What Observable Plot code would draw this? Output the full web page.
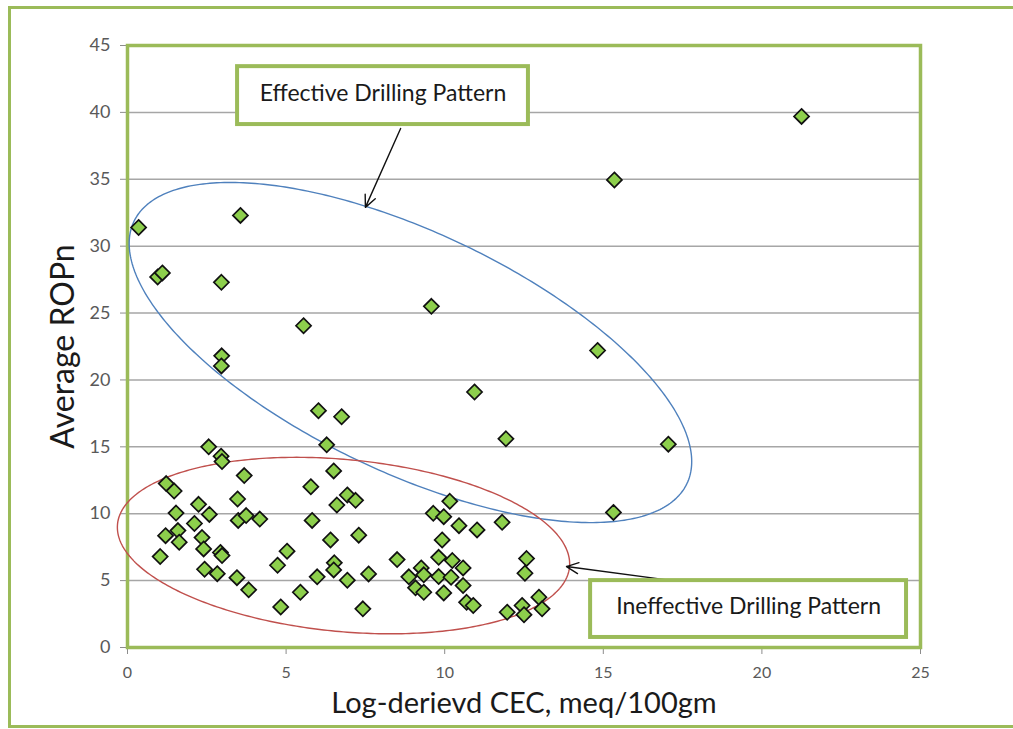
<!DOCTYPE html>
<html>
<head>
<meta charset="utf-8">
<script src="https://cdn.jsdelivr.net/npm/d3@7"></script>
<script src="https://cdn.jsdelivr.net/npm/@observablehq/plot@0.6"></script>
<style>
  body { margin: 0; background: #fff; }
  #wrap { position: relative; width: 1013px; height: 729px; overflow: hidden; background: #fff; }
  #chart { position: absolute; left: 0; top: 0; }
  #outer { position: absolute; left: 8px; top: 6px; width: 1030px; height: 716px; border: 3px solid #9bbb59; pointer-events: none; }
</style>
</head>
<body>
<div id="wrap"><div id="chart"></div><div id="outer"></div></div>
<script>
// ---- data ----
const cec = [21.25, 15.35, 0.35, 3.56, 0.95, 1.1, 2.96, 9.58, 5.55, 14.82,
  2.97, 2.96, 10.94, 6.02, 6.75, 11.93, 17.05, 6.28, 2.56, 2.95,
  2.98, 15.32, 6.5, 3.68, 1.22, 1.47, 2.24, 2.58, 1.53, 3.47,
  3.49, 3.74, 4.17, 2.11, 1.59, 1.2, 1.63, 2.35, 2.4, 2.93,
  2.98, 1.03, 2.43, 2.83, 3.45, 3.82, 5.03, 4.73, 4.83, 5.45,
  5.78, 6.93, 6.6, 7.19, 5.82, 6.4, 7.29, 6.52, 6.5, 5.98,
  6.93, 7.6, 7.42, 8.5, 8.87, 10.16, 9.64, 9.97, 10.45, 11.02,
  11.81, 9.92, 9.81, 10.24, 10.58, 9.26, 9.34, 9.81, 10.2, 9.08,
  9.34, 9.97, 10.58, 10.69, 10.9, 12.58, 12.53, 11.97, 12.44, 12.5,
  12.97, 13.07];
const rop = [39.7, 34.95, 31.4, 32.3, 27.7, 28.0, 27.3, 25.5, 24.05, 22.2,
  21.8, 21.05, 19.1, 17.7, 17.25, 15.6, 15.2, 15.15, 15.0, 14.3,
  13.9, 10.1, 13.2, 12.85, 12.25, 11.7, 10.7, 9.95, 10.05, 11.1,
  9.5, 9.86, 9.6, 9.27, 8.74, 8.36, 7.87, 8.22, 7.37, 7.1,
  6.87, 6.8, 5.85, 5.52, 5.22, 4.31, 7.2, 6.15, 3.03, 4.13,
  12.02, 11.4, 10.65, 11.0, 9.5, 8.04, 8.4, 6.33, 5.8, 5.28,
  5.03, 5.5, 2.89, 6.57, 5.28, 10.93, 10.03, 9.78, 9.11, 8.79,
  9.36, 8.04, 6.74, 6.5, 5.95, 5.95, 5.43, 5.3, 5.25, 4.46,
  4.13, 4.08, 4.63, 3.38, 3.14, 6.65, 5.55, 2.64, 3.14, 2.45,
  3.76, 2.89];

const xTicks = [0, 5, 10, 15, 20, 25];
const yTicks = [0, 5, 10, 15, 20, 25, 30, 35, 40, 45];
const xTitle = "Log-derievd CEC, meq/100gm";
const yTitle = "Average ROPn";

// annotation boxes (data units)
const boxLabels = ["Effective Drilling Pattern", "Ineffective Drilling Pattern"];
const boxX1 = [3.47, 14.6];
const boxX2 = [12.64, 24.56];
const boxY1 = [39.09, 0.75];
const boxY2 = [43.42, 5.0];

// arrows (data units)
const arrX1 = [8.61, 17.18];
const arrY1 = [38.8, 5.0];
const arrX2 = [7.5, 13.84];
const arrY2 = [32.9, 6.05];

// ellipses: centre (data units), semi-axes (px), rotation (deg, screen)
const ellNames = ["effective", "ineffective"];
const ellCx = [8.92, 6.81];
const ellCy = [22.05, 7.62];
const ellA = [306, 227];
const ellB = [120, 86];
const ellAng = [25.35, 5.4];
const ellColor = ["#4f81bd", "#c0504d"];

// ---- layout ----
const W = 1013, H = 729, mL = 127, mR = 93, mT = 45, mB = 82;
const kx = (W - mL - mR) / 25;
const ky = (H - mT - mB) / 45;

function ellipsePts(i) {
  const th = ellAng[i] * Math.PI / 180;
  const pts = [];
  const n = 360;
  for (let k = 0; k <= n; k++) {
    const t = 2 * Math.PI * k / n;
    const dx = ellA[i] * Math.cos(t) * Math.cos(th) - ellB[i] * Math.sin(t) * Math.sin(th);
    const dy = ellA[i] * Math.cos(t) * Math.sin(th) + ellB[i] * Math.sin(t) * Math.cos(th);
    let x = ellCx[i] + dx / kx;
    let y = ellCy[i] - dy / ky;
    // small break in the blue outline, as in the reference
    if (i === 0) {
      const px = mL + x * kx, py = (H - mB) - y * ky;
      if (Math.hypot(px - 679, py - 484) < 5) { x = NaN; y = NaN; }
    }
    pts.push({x, y, e: ellNames[i]});
  }
  return pts;
}
const ellData = ellNames.flatMap((_, i) => ellipsePts(i));

const idx = d3.range(cec.length);
const bi = d3.range(boxLabels.length);
const ai = d3.range(arrX1.length);

const chart = Plot.plot({
  width: W, height: H,
  marginLeft: mL, marginRight: mR, marginTop: mT, marginBottom: mB,
  style: {fontFamily: "Lato, 'Open Sans', sans-serif", background: "transparent", overflow: "visible"},
  x: {domain: [0, 25]},
  y: {domain: [0, 45]},
  color: {domain: ellNames, range: ellColor},
  marks: [
    Plot.gridY(yTicks, {stroke: "#a6a6a6", strokeOpacity: 1, strokeWidth: 1.5}),
    Plot.axisY(yTicks, {tickSize: 7, tickPadding: 10, fontSize: 18, fill: "#595959", stroke: "#8c8c8c", label: null}),
    Plot.axisX(xTicks, {tickSize: 7, tickPadding: 12, fontSize: 16, fill: "#595959", stroke: "#8c8c8c", label: null}),
    Plot.frame({stroke: "#9bbb59", strokeWidth: 3.5}),
    Plot.line(ellData, {x: "x", y: "y", z: "e", stroke: d => d.e, strokeWidth: 1.4}),
    Plot.dot(idx, {x: i => cec[i], y: i => rop[i], symbol: "diamond2", r: 6.8,
      fill: "#8dcf4c", stroke: "#111", strokeWidth: 1.7}),
    Plot.arrow(ai, {x1: i => arrX1[i], y1: i => arrY1[i], x2: i => arrX2[i], y2: i => arrY2[i],
      stroke: "#111", strokeWidth: 1.4, headLength: 14, headAngle: 50}),
    Plot.rect(bi, {x1: i => boxX1[i], x2: i => boxX2[i], y1: i => boxY1[i], y2: i => boxY2[i],
      fill: "white", stroke: "#9bbb59", strokeWidth: 4}),
    Plot.text(bi, {x: i => (boxX1[i] + boxX2[i]) / 2, y: i => (boxY1[i] + boxY2[i]) / 2,
      text: i => boxLabels[i], fontSize: 23, fill: "#1a1a1a", dy: -2}),
    Plot.text([yTitle], {frameAnchor: "left", textAnchor: "middle", dx: -64, rotate: -90, fontSize: 32, fill: "#1a1a1a"}),
    Plot.text([xTitle], {frameAnchor: "bottom", textAnchor: "middle", dy: 65, fontSize: 29, fill: "#1a1a1a"})
  ]
});
document.getElementById("chart").appendChild(chart);
</script>
</body>
</html>
